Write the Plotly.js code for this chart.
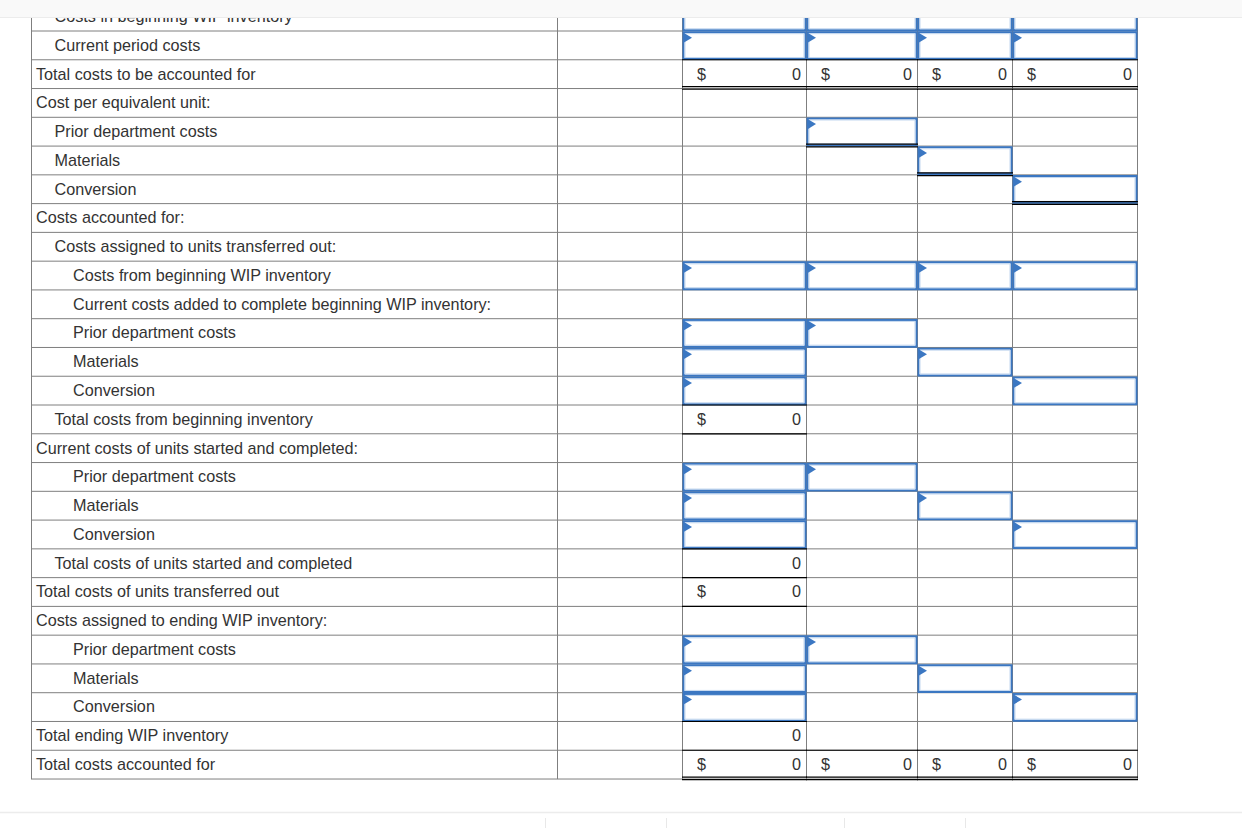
<!DOCTYPE html>
<html><head><meta charset="utf-8">
<script src="https://cdn.plot.ly/plotly-3.0.1.min.js"></script>
<style>html,body{margin:0;padding:0;background:#fff;overflow:hidden}#chart{width:1242px;height:828px}</style>
</head><body><div id="chart"></div>
<script>
// ---------- DATA ----------
const rowLabels = [
  "Costs in beginning WIP inventory",
  "Current period costs",
  "Total costs to be accounted for",
  "Cost per equivalent unit:",
  "Prior department costs",
  "Materials",
  "Conversion",
  "Costs accounted for:",
  "Costs assigned to units transferred out:",
  "Costs from beginning WIP inventory",
  "Current costs added to complete beginning WIP inventory:",
  "Prior department costs",
  "Materials",
  "Conversion",
  "Total costs from beginning inventory",
  "Current costs of units started and completed:",
  "Prior department costs",
  "Materials",
  "Conversion",
  "Total costs of units started and completed",
  "Total costs of units transferred out",
  "Costs assigned to ending WIP inventory:",
  "Prior department costs",
  "Materials",
  "Conversion",
  "Total ending WIP inventory",
  "Total costs accounted for"
];
const rowIndent = [1,1,0,0,1,1,1,0,1,2,2,2,2,2,1,0,2,2,2,1,0,0,2,2,2,0,0];

// cell kinds: "i" = input box, "$" = dollar total, "n" = number only, "" = blank
const cellKindA = ["i","i","$","","","","","","","i","","i","i","i","$","","i","i","i","n","$","","i","i","i","n","$"];
const cellKindB = ["i","i","$","","i","","","","","i","","i","","","","","i","","","","","","i","","","","$"];
const cellKindC = ["i","i","$","","","i","","","","i","","","i","","","","","i","","","","","","i","","","$"];
const cellKindD = ["i","i","$","","","","i","","","i","","","","i","","","","","i","","","","","","i","","$"];

const amountA = [null,null,0,null,null,null,null,null,null,null,null,null,null,null,0,null,null,null,null,0,0,null,null,null,null,0,0];
const amountB = [null,null,0,null,null,null,null,null,null,null,null,null,null,null,null,null,null,null,null,null,null,null,null,null,null,null,0];
const amountC = [null,null,0,null,null,null,null,null,null,null,null,null,null,null,null,null,null,null,null,null,null,null,null,null,null,null,0];
const amountD = [null,null,0,null,null,null,null,null,null,null,null,null,null,null,null,null,null,null,null,null,null,null,null,null,null,null,0];

// ---------- LAYOUT / STYLE ----------
const W = 1242, H = 828;
const ROW_PX = 28.77, TOP0 = 2.23;
const colEdges = [31, 557, 682, 806, 917, 1012, 1137];
const valueCols = [2, 3, 4, 5]; // index into colEdges (left edge)
const LABEL_X0 = 36, INDENT = 18.5;
const GRID = "#7f7f7f", BLUE = "#3b77c2", LIGHTBLUE = "#c3d7ef", TEXT = "#333333";
const FONT = "Arial, 'Liberation Sans', sans-serif";
const FONT_SIZE = 16.2;

const kinds = [cellKindA, cellKindB, cellKindC, cellKindD];
const amounts = [amountA, amountB, amountC, amountD];
const nRows = rowLabels.length;
const d = px => px / ROW_PX;
const TEXT_DY = d(1.3);

// border styles (separate from data)
const topBlack = [[2,[0,1,2,3]],[14,[0]],[15,[0]],[19,[0]],[20,[0]],[21,[0]],[25,[0]],[26,[0,1,2,3]]];
const doubleBottom = [[2,[0,1,2,3]],[4,[1]],[5,[2]],[6,[3]],[26,[0,1,2,3]]];

const shapes = [];
// horizontal grid
for (let i = 0; i <= nRows; i++) {
  shapes.push({type:"line", xref:"x", yref:"y", x0:colEdges[0], x1:colEdges[colEdges.length-1], y0:i, y1:i, line:{color:GRID, width:1}, layer:"below"});
}
// vertical grid
colEdges.forEach(x => shapes.push({type:"line", xref:"x", yref:"y", x0:x+0.5, x1:x+0.5, y0:0, y1:nRows, line:{color:GRID, width:1}, layer:"below"}));

// input boxes
kinds.forEach((arr, c) => {
  const L = colEdges[valueCols[c]], R = colEdges[valueCols[c]+1];
  arr.forEach((k, i) => {
    if (k !== "i") return;
    shapes.push({type:"rect", xref:"x", yref:"y", x0:L+1.5, x1:R-0.5, y0:i+d(1.2), y1:i+1-d(0.8), fillcolor:"#ffffff", line:{color:BLUE, width:2}, layer:"below"});
    shapes.push({type:"rect", xref:"x", yref:"y", x0:L+3, x1:R-2, y0:i+d(2.7), y1:i+1-d(2.3), line:{color:LIGHTBLUE, width:1}, layer:"below"});
    const tx = L + 2, ty = i + d(2);
    shapes.push({type:"path", xref:"x", yref:"y", path:`M ${tx} ${ty} L ${tx+8} ${ty+d(4.8)} L ${tx} ${ty+d(9.6)} Z`, fillcolor:BLUE, line:{width:0}, layer:"below"});
  });
});
// black top lines
topBlack.forEach(([r, cols]) => cols.forEach(c => {
  const L = colEdges[valueCols[c]], R = colEdges[valueCols[c]+1];
  shapes.push({type:"line", xref:"x", yref:"y", x0:L, x1:R+1, y0:r, y1:r, line:{color:"#000", width:1.2}, layer:"below"});
}));
// double bottom lines
doubleBottom.forEach(([r, cols]) => cols.forEach(c => {
  const L = colEdges[valueCols[c]], R = colEdges[valueCols[c]+1];
  [-1.9, 0.7].forEach(o => shapes.push({type:"line", xref:"x", yref:"y", x0:L, x1:R+1, y0:r+1+d(o), y1:r+1+d(o), line:{color:"#000", width:1.2}, layer:"below"}));
}));
// page chrome: header bar and bottom strip
shapes.push({type:"rect", xref:"paper", yref:"paper", x0:0, x1:1, y0:1, y1:1-17/H, fillcolor:"#f9f9f9", line:{width:0}, layer:"above"});
shapes.push({type:"line", xref:"paper", yref:"paper", x0:0, x1:1, y0:1-17.5/H, y1:1-17.5/H, line:{color:"#ececec", width:1}, layer:"above"});
shapes.push({type:"line", xref:"paper", yref:"paper", x0:0, x1:1, y0:1-812.5/H, y1:1-812.5/H, line:{color:"#ececec", width:1.5}, layer:"above"});
[545, 666, 844, 965].forEach(x => shapes.push({type:"line", xref:"x", yref:"paper", x0:x+0.5, x1:x+0.5, y0:1-818/H, y1:0, line:{color:"#e8e8e8", width:1}, layer:"above"}));

// ---------- TRACES ----------
const rowCenters = rowLabels.map((_, i) => i + 0.5 + TEXT_DY);
const labelTrace = {
  type:"scatter", mode:"text", x: rowIndent.map(k => LABEL_X0 + k*INDENT), y: rowCenters,
  text: rowLabels, textposition:"middle right", textfont:{family:FONT, size:FONT_SIZE, color:TEXT},
  hoverinfo:"skip", showlegend:false, cliponaxis:false
};
const dx = [], dy = [], ax = [], ay = [], at = [];
kinds.forEach((arr, c) => {
  const L = colEdges[valueCols[c]], R = colEdges[valueCols[c]+1];
  arr.forEach((k, i) => { if (k === "$") { dx.push(L + 15); dy.push(i + 0.5 + TEXT_DY); } });
  amounts[c].forEach((v, i) => { if (v !== null) { ax.push(R - 5); ay.push(i + 0.5 + TEXT_DY); at.push(String(v)); } });
});
const dollarTrace = {type:"scatter", mode:"text", x:dx, y:dy, text:dx.map(()=>"$"), textposition:"middle right", textfont:{family:FONT, size:FONT_SIZE, color:TEXT}, hoverinfo:"skip", showlegend:false};
const amountTrace = {type:"scatter", mode:"text", x:ax, y:ay, text:at, textposition:"middle left", textfont:{family:FONT, size:FONT_SIZE, color:TEXT}, hoverinfo:"skip", showlegend:false};

const layout = {
  width:W, height:H, margin:{l:0, r:0, t:0, b:0, pad:0},
  paper_bgcolor:"#ffffff", plot_bgcolor:"#ffffff",
  xaxis:{range:[0, W], visible:false, fixedrange:true},
  yaxis:{range:[(H - TOP0)/ROW_PX, -TOP0/ROW_PX], visible:false, fixedrange:true},
  shapes: shapes, showlegend:false
};
Plotly.newPlot("chart", [labelTrace, dollarTrace, amountTrace], layout, {displayModeBar:false, staticPlot:true});
</script></body></html>
